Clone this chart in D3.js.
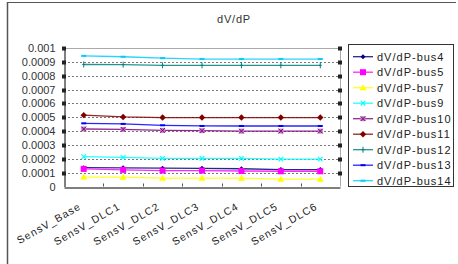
<!DOCTYPE html>
<html><head><meta charset="utf-8">
<script src="https://cdn.jsdelivr.net/npm/d3@7"></script>
<style>body{margin:0;background:#fff}svg{display:block}text{font-family:"Liberation Sans",Arial,sans-serif}</style>
</head><body><svg id="c" width="458" height="264"></svg>
<script>
const categories = ["SensV_Base","SensV_DLC1","SensV_DLC2","SensV_DLC3","SensV_DLC4","SensV_DLC5","SensV_DLC6"];
const seriesNames = ["dV/dP-bus4","dV/dP-bus5","dV/dP-bus7","dV/dP-bus9","dV/dP-bus10","dV/dP-bus11","dV/dP-bus12","dV/dP-bus13","dV/dP-bus14"];
const bus4  = [0.000136,0.000135,0.000132,0.000131,0.000128,0.000122,0.000122];
const bus5  = [0.000127,0.000120,0.000115,0.000115,0.000112,0.000110,0.000110];
const bus7  = [0.000068,0.000067,0.000060,0.000060,0.000060,0.000053,0.000053];
const bus9  = [0.000215,0.000210,0.000203,0.000203,0.000203,0.000198,0.000198];
const bus10 = [0.000415,0.000412,0.000405,0.000403,0.000400,0.000400,0.000400];
const bus11 = [0.000515,0.000502,0.000498,0.000498,0.000498,0.000498,0.000498];
const bus12 = [0.000881,0.000880,0.000875,0.000875,0.000875,0.000875,0.000875];
const bus13 = [0.000456,0.000452,0.000442,0.000437,0.000437,0.000437,0.000437];
const bus14 = [0.000943,0.000937,0.000927,0.000920,0.000920,0.000920,0.000920];
const yTicks = [0,0.0001,0.0002,0.0003,0.0004,0.0005,0.0006,0.0007,0.0008,0.0009,0.001];
const yTickLabels = ["0","0.0001","0.0002","0.0003","0.0004","0.0005","0.0006","0.0007","0.0008","0.0009","0.001"];
const colors = ["#000080","#FF00FF","#FFFF00","#00FFFF","#800080","#800000","#008080","#0000FF","#00CCFF"];
const markers = ["diamond","square","triangle","x","xsquare","diamond2","plus","dash","dash"];
const allSeries = [bus4,bus5,bus7,bus9,bus10,bus11,bus12,bus13,bus14];

const svg = d3.select("#c");
// frame
svg.append("line").attr("x1",7.5).attr("x2",7.5).attr("y1",2).attr("y2",264).attr("stroke","#555").attr("stroke-width",1.5);
svg.append("line").attr("x1",7).attr("x2",456).attr("y1",2.5).attr("y2",2.5).attr("stroke","#555").attr("stroke-width",1.2);

svg.append("text").attr("x",234).attr("y",23).attr("text-anchor","middle").attr("font-size",11).attr("letter-spacing",0.8).attr("fill","#333").text("dV/dP");

const L=64, R=340, T=48, B=186.5;
const x = d3.scaleBand().domain(categories).range([L,R]);
const y = d3.scaleLinear().domain([0,0.001]).range([B,T]);

// gridlines
const g = svg.append("g");
yTicks.forEach((v,i)=>{
  if(v===0) return;
  g.append("line").attr("x1",L).attr("x2",R).attr("y1",Math.round(y(v))+0.5).attr("y2",Math.round(y(v))+0.5)
   .attr("stroke", v===0.001?"#aaa":"#777").attr("stroke-width",1).attr("stroke-dasharray", v===0.001?null:"2,2");
});
// right side line
g.append("line").attr("x1",R+0.5).attr("x2",R+0.5).attr("y1",T).attr("y2",B).attr("stroke","#aaa");
// y axis
const yAxis = d3.axisLeft(y).tickValues(yTicks).tickFormat((d,i)=>yTickLabels[i]).tickSize(0).tickPadding(9);
const ya = svg.append("g").attr("transform",`translate(${L+0.5},0)`).call(yAxis);
ya.select(".domain").attr("stroke","#000");
ya.selectAll("text").attr("font-size",11).attr("fill","#333").attr("font-family","Liberation Sans, Arial, sans-serif");
// x axis
const xAxis = d3.axisBottom(x).tickSize(0).tickFormat("");
const xa = svg.append("g").attr("transform",`translate(0,${Math.round(B)+0.5})`).call(xAxis);
xa.select(".domain").attr("stroke","#000");
categories.slice(1).forEach(c=>{
  svg.append("line").attr("x1",Math.round(x(c))+0.5).attr("x2",Math.round(x(c))+0.5).attr("y1",B-3).attr("y2",B).attr("stroke","#555");
});
categories.forEach(c=>{
  const cx = x(c)+x.bandwidth()/2;
  svg.append("text").attr("transform",`translate(${cx-2},${B+22}) rotate(-30)`).attr("text-anchor","end")
    .attr("font-size",10.5).attr("letter-spacing",1.1).attr("fill","#222").text(c);
});
// end markers on gridlines
yTicks.forEach(v=>{
  if(v===0) return;
  [L,R].forEach(px=>{
    svg.append("rect").attr("x",px-2).attr("y",Math.round(y(v))-1.5).attr("width",4).attr("height",4).attr("fill","#222");
  });
});

function drawMarker(sel, type, color, cx, cy){
  const s = 2.3;
  if(type==="diamond"){
    sel.append("path").attr("d",`M${cx},${cy-2.5}L${cx+2.5},${cy}L${cx},${cy+2.5}L${cx-2.5},${cy}Z`).attr("fill",color);
  } else if(type==="diamond2"){
    sel.append("path").attr("d",`M${cx},${cy-3.2}L${cx+3.2},${cy}L${cx},${cy+3.2}L${cx-3.2},${cy}Z`).attr("fill",color);
  } else if(type==="square"){
    sel.append("rect").attr("x",cx-3).attr("y",cy-3).attr("width",6).attr("height",6).attr("fill",color);
  } else if(type==="triangle"){
    sel.append("path").attr("d",`M${cx},${cy-3.5}L${cx+3.5},${cy+2.5}L${cx-3.5},${cy+2.5}Z`).attr("fill",color);
  } else if(type==="x"){
    sel.append("path").attr("d",`M${cx-s},${cy-s}L${cx+s},${cy+s}M${cx-s},${cy+s}L${cx+s},${cy-s}`).attr("stroke",color).attr("stroke-width",1.1);
  } else if(type==="xsquare"){
    sel.append("rect").attr("x",cx-2.5).attr("y",cy-2.5).attr("width",5).attr("height",5).attr("fill","#c080c0");
    sel.append("path").attr("d",`M${cx-s},${cy-s}L${cx+s},${cy+s}M${cx-s},${cy+s}L${cx+s},${cy-s}`).attr("stroke",color).attr("stroke-width",1);
  } else if(type==="plus"){
    sel.append("path").attr("d",`M${cx},${cy-3}L${cx},${cy+3}M${cx-1.5},${cy}L${cx+1.5},${cy}`).attr("stroke",color).attr("stroke-width",1);
  } else if(type==="dash"){
    sel.append("rect").attr("x",cx-2.5).attr("y",cy-1).attr("width",5).attr("height",2).attr("fill",color);
  }
}

const line = d3.line().x((d,i)=>x(categories[i])+x.bandwidth()/2).y(d=>y(d));
allSeries.forEach((vals,si)=>{
  const gs = svg.append("g");
  gs.append("path").attr("d",line(vals)).attr("fill","none").attr("stroke",colors[si]).attr("stroke-width",1.3).attr("stroke-opacity",0.85);
  vals.forEach((v,i)=>drawMarker(gs, markers[si], colors[si], x(categories[i])+x.bandwidth()/2, y(v)));
});

// legend
const lg = svg.append("g");
lg.append("rect").attr("x",348.5).attr("y",44.5).attr("width",105).attr("height",142).attr("fill","#fff").attr("stroke","#333");
seriesNames.forEach((n,i)=>{
  const ly = 56.7 + i*15.5;
  lg.append("line").attr("x1",353).attr("x2",373).attr("y1",ly).attr("y2",ly).attr("stroke",colors[i]).attr("stroke-width",1.3).attr("stroke-opacity",0.85);
  drawMarker(lg, markers[i], colors[i], 363, ly);
  lg.append("text").attr("x",377).attr("y",ly+4).attr("font-size",11).attr("letter-spacing",1).attr("fill","#222").text(n);
});
</script></body></html>
